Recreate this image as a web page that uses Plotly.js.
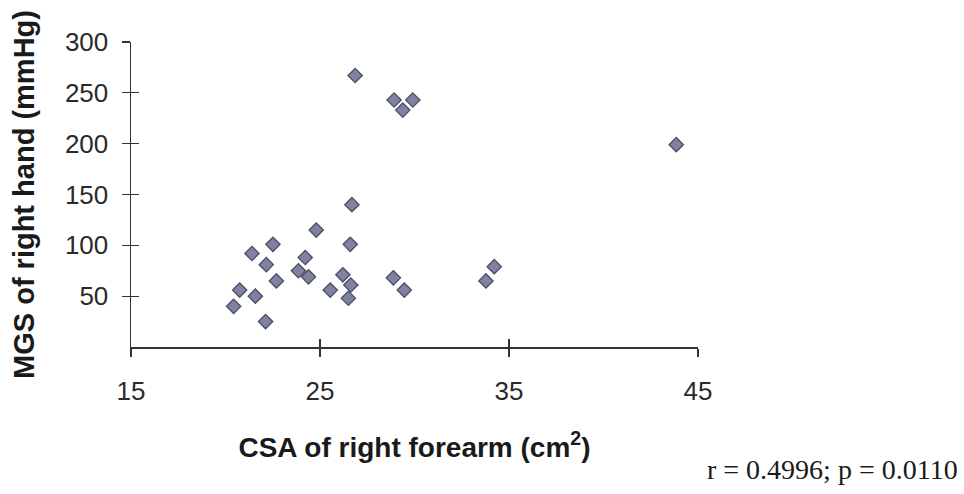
<!DOCTYPE html>
<html>
<head>
<meta charset="utf-8">
<script src="https://cdn.plot.ly/plotly-3.0.1.min.js"></script>
<style>html,body{margin:0;padding:0;background:#fff;}#chart{width:964px;height:494px;}</style>
</head>
<body>
<div id="chart"></div>
<script>
// CSA of right forearm (cm^2)
const csaRightForearm = [26.69, 24.8, 22.51, 26.6, 21.4, 24.22, 22.16, 23.86, 24.39, 26.21, 26.63, 20.75, 22.69, 21.58, 25.54, 26.5, 20.43, 22.12, 26.86, 28.92, 29.38, 29.91, 28.88, 29.46, 34.22, 33.78, 43.85];
// MGS of right hand (mmHg)
const mgsRightHand = [140, 115, 101, 101, 92, 88, 81, 75, 69, 71, 61, 56, 65, 50, 56, 48, 40, 25, 267, 243, 233, 243, 68, 56, 79, 65, 199];
const xTicks = [15, 25, 35, 45];
const yTicks = [50, 100, 150, 200, 250, 300];
const statsText = "r = 0.4996; p = 0.0110";

const tickFont = {family: "Liberation Sans, Arial, sans-serif", size: 26, color: "#2a2a2a"};
const xTitleFont = {family: "Liberation Sans, Arial, sans-serif", size: 28, color: "#1a1a1a", weight: "bold"};
const yTitleFont = {family: "Liberation Sans, Arial, sans-serif", size: 29, color: "#1a1a1a", weight: "bold"};

const data = [{
  x: csaRightForearm,
  y: mgsRightHand,
  type: "scatter",
  mode: "markers",
  marker: {symbol: "diamond", size: 11, color: "#80839f", line: {color: "#4b4e66", width: 1.3}},
  showlegend: false,
  hoverinfo: "x+y"
}, {
  x: [], y: [], xaxis: "x2", yaxis: "y2", type: "scatter", mode: "markers", showlegend: false, hoverinfo: "skip"
}];

const layout = {
  width: 964, height: 494,
  paper_bgcolor: "#fff", plot_bgcolor: "#fff",
  margin: {l: 131, r: 266, t: 42, b: 147},
  showlegend: false,
  xaxis: {
    range: [15, 45], tickvals: xTicks, ticktext: xTicks.map(String),
    showgrid: false, zeroline: false, showline: true, linecolor: "#333", linewidth: 1.5,
    ticks: "outside", ticklen: 8, tickwidth: 1.3, tickcolor: "#333",
    tickfont: tickFont, ticklabelstandoff: 12,
    title: {text: "<b>CSA of right forearm (cm<sup>2</sup>)</b>", font: xTitleFont, standoff: 32},
    fixedrange: true
  },
  yaxis: {
    range: [0, 300], tickvals: yTicks, ticktext: yTicks.map(String),
    showgrid: false, zeroline: false, showline: true, linecolor: "#333", linewidth: 1.5,
    ticks: "outside", ticklen: 8, tickwidth: 1.3, tickcolor: "#333",
    tickfont: tickFont, ticklabelstandoff: 8,
    title: {text: "<b>MGS of right hand (mmHg)</b>", font: yTitleFont, standoff: 22},
    fixedrange: true
  },
  xaxis2: {
    overlaying: "x", anchor: "y", range: [15, 45], tickvals: xTicks,
    showticklabels: false, showgrid: false, zeroline: false, showline: false,
    ticks: "inside", ticklen: 8, tickwidth: 1.3, tickcolor: "#333", fixedrange: true
  },
  yaxis2: {
    overlaying: "y", anchor: "x", range: [0, 300], tickvals: yTicks,
    showticklabels: false, showgrid: false, zeroline: false, showline: false,
    ticks: "inside", ticklen: 8, tickwidth: 1.3, tickcolor: "#333", fixedrange: true
  },
  annotations: [{
    text: statsText, xref: "paper", yref: "paper",
    x: 1.462, y: -0.40, xanchor: "right", yanchor: "middle", showarrow: false,
    font: {family: "Liberation Serif, Times New Roman, serif", size: 28, color: "#1a1a1a"}
  }]
};

Plotly.newPlot("chart", data, layout, {displayModeBar: false, staticPlot: true});
</script>
</body>
</html>
